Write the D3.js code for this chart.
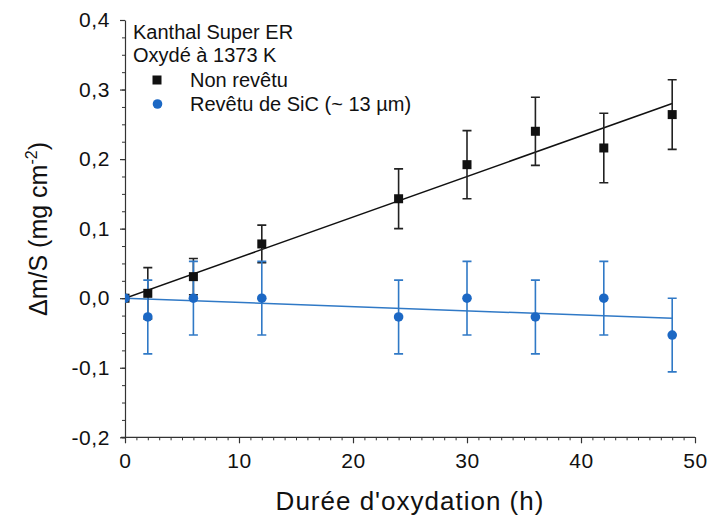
<!DOCTYPE html>
<html>
<head>
<meta charset="utf-8">
<script src="https://cdn.jsdelivr.net/npm/d3@7"></script>
<style>
  body { margin: 0; background: #fff; }
  svg text { font-family: 'Liberation Sans', Arial, sans-serif; fill: #111; }
</style>
</head>
<body>
<div class="chart"></div>
<script>
// data
const hours = [0, 2, 6, 12, 24, 30, 36, 42, 48];
const nonRevetu = [0, 0.007, 0.031, 0.078, 0.143, 0.192, 0.240, 0.216, 0.264];
const nonRevetuErr = [0, 0.037, 0.026, 0.027, 0.043, 0.049, 0.049, 0.050, 0.050];
const revetu = [0, -0.027, 0, 0, -0.027, 0, -0.027, 0, -0.053];
const revetuErr = [0, 0.053, 0.053, 0.053, 0.053, 0.053, 0.053, 0.053, 0.053];
const fitHours = [0, 48];
const fitNonRevetu = [0, 0.280];
const fitRevetu = [0, -0.029];
const xTicks = [0, 10, 20, 30, 40, 50];
const yTicks = [-0.2, -0.1, 0, 0.1, 0.2, 0.3, 0.4];
const legendTitle = ['Kanthal Super ER', 'Oxydé à 1373 K'];
const seriesNames = ['Non revêtu', 'Revêtu de SiC (~ 13 µm)'];

const W = 711, H = 521;
const black = '#111', blue = '#1c68c4', blueLine = '#3079c6';

const svg = d3.select('.chart').append('svg')
    .attr('width', W).attr('height', H);

const x = d3.scaleLinear().domain([0, 50]).range([125, 695]);
const y = d3.scaleLinear().domain([-0.2, 0.4]).range([437.3, 20]);

// french decimal comma, plain hyphen for negatives
const comma = d => d3.format('.1f')(d).replace('.', ',').replace('\u2212', '-');

// minor ticks
svg.append('g')
    .attr('transform', 'translate(' + x(0) + ',0)')
    .call(d3.axisLeft(y).tickValues(d3.range(-0.2, 0.4001, 0.025)).tickSize(3).tickFormat(''))
    .call(g => g.select('.domain').remove())
    .selectAll('line').attr('stroke', '#333');
svg.append('g')
    .attr('transform', 'translate(0,' + y(-0.2) + ')')
    .call(d3.axisBottom(x).tickValues(d3.range(0, 51, 1)).tickSize(3).tickFormat(''))
    .call(g => g.select('.domain').remove())
    .selectAll('line').attr('stroke', '#333');

// main axes
const yAxis = svg.append('g')
    .attr('transform', 'translate(' + x(0) + ',0)')
    .call(d3.axisLeft(y).tickValues(yTicks).tickSize(5).tickPadding(10).tickFormat(comma).tickSizeOuter(0));
const xAxis = svg.append('g')
    .attr('transform', 'translate(0,' + y(-0.2) + ')')
    .call(d3.axisBottom(x).tickValues(xTicks).tickSize(6).tickPadding(10).tickFormat(d3.format('d')).tickSizeOuter(0));
[yAxis, xAxis].forEach(g => {
    g.select('.domain').attr('stroke', '#333').attr('stroke-width', 1.2);
    g.selectAll('.tick line').attr('stroke', '#333').attr('stroke-width', 1.2);
    g.selectAll('text').attr('fill', '#111')
        .style('font-size', '21px').style('letter-spacing', '0.6px')
        .style('font-family', "'Liberation Sans', Arial, sans-serif");
});
xAxis.select('.domain').attr('d', 'M' + (x(0) - 4) + ',0H' + x(50));

// axis titles
svg.append('text')
    .attr('x', x(25)).attr('y', 510)
    .attr('text-anchor', 'middle')
    .style('font-size', '26px').style('letter-spacing', '1px')
    .text("Durée d'oxydation (h)");

const yTitle = svg.append('text')
    .attr('transform', 'translate(47,229) rotate(-90)')
    .attr('text-anchor', 'middle')
    .style('font-size', '25px');
yTitle.append('tspan').text('Δm/S (mg cm');
yTitle.append('tspan').attr('dy', -10).style('font-size', '16px').text('-2');
yTitle.append('tspan').attr('dy', 10).text(')');

// clip so the points at t=0 are cut at the axis
svg.append('clipPath').attr('id', 'plotclip')
    .append('rect').attr('x', x(0)).attr('y', 0).attr('width', W - x(0)).attr('height', H);

const plot = svg.append('g').attr('clip-path', 'url(#plotclip)');

// fit lines
const line = d3.line().x(d => x(d[0])).y(d => y(d[1]));
plot.append('path')
    .attr('d', line(fitHours.map((h, i) => [h, fitNonRevetu[i]])))
    .attr('fill', 'none').attr('stroke', black).attr('stroke-width', 1.5);
plot.append('path')
    .attr('d', line(fitHours.map((h, i) => [h, fitRevetu[i]])))
    .attr('fill', 'none').attr('stroke', blueLine).attr('stroke-width', 1.5);

// error bars
function errorBars(vals, errs, color) {
    const rows = hours.map((h, i) => ({h: h, v: vals[i], e: errs[i]})).filter(d => d.e > 0);
    const g = plot.append('g').attr('stroke', color).attr('stroke-width', 1.6).attr('fill', 'none');
    g.selectAll('.eb').data(rows).enter().append('path')
        .attr('d', d => {
            const cx = x(d.h), t = y(d.v + d.e), b = y(d.v - d.e);
            return 'M' + cx + ',' + t + 'V' + b +
                'M' + (cx - 4.5) + ',' + t + 'H' + (cx + 4.5) +
                'M' + (cx - 4.5) + ',' + b + 'H' + (cx + 4.5);
        });
}
errorBars(nonRevetu, nonRevetuErr, '#222');
errorBars(revetu, revetuErr, blueLine);

// markers
plot.selectAll('.sq').data(hours).enter().append('rect')
    .attr('x', (d, i) => x(d) - 4.5)
    .attr('y', (d, i) => y(nonRevetu[i]) - 4.5)
    .attr('width', 9).attr('height', 9)
    .attr('fill', black);
plot.selectAll('.dot').data(hours).enter().append('circle')
    .attr('cx', d => x(d))
    .attr('cy', (d, i) => y(revetu[i]))
    .attr('r', 4.8)
    .attr('fill', blue);

// legend
legendTitle.forEach((t, i) => {
    svg.append('text').attr('x', 133).attr('y', 39 + i * 22.5)
        .style('font-size', '20px').text(t);
});
svg.append('rect').attr('x', 152.5).attr('y', 75.5).attr('width', 9).attr('height', 9).attr('fill', black);
svg.append('circle').attr('cx', 157.5).attr('cy', 104).attr('r', 4.8).attr('fill', blue);
seriesNames.forEach((t, i) => {
    svg.append('text').attr('x', 190).attr('y', 87 + i * 24)
        .style('font-size', '20px').text(t);
});
</script>
</body>
</html>
